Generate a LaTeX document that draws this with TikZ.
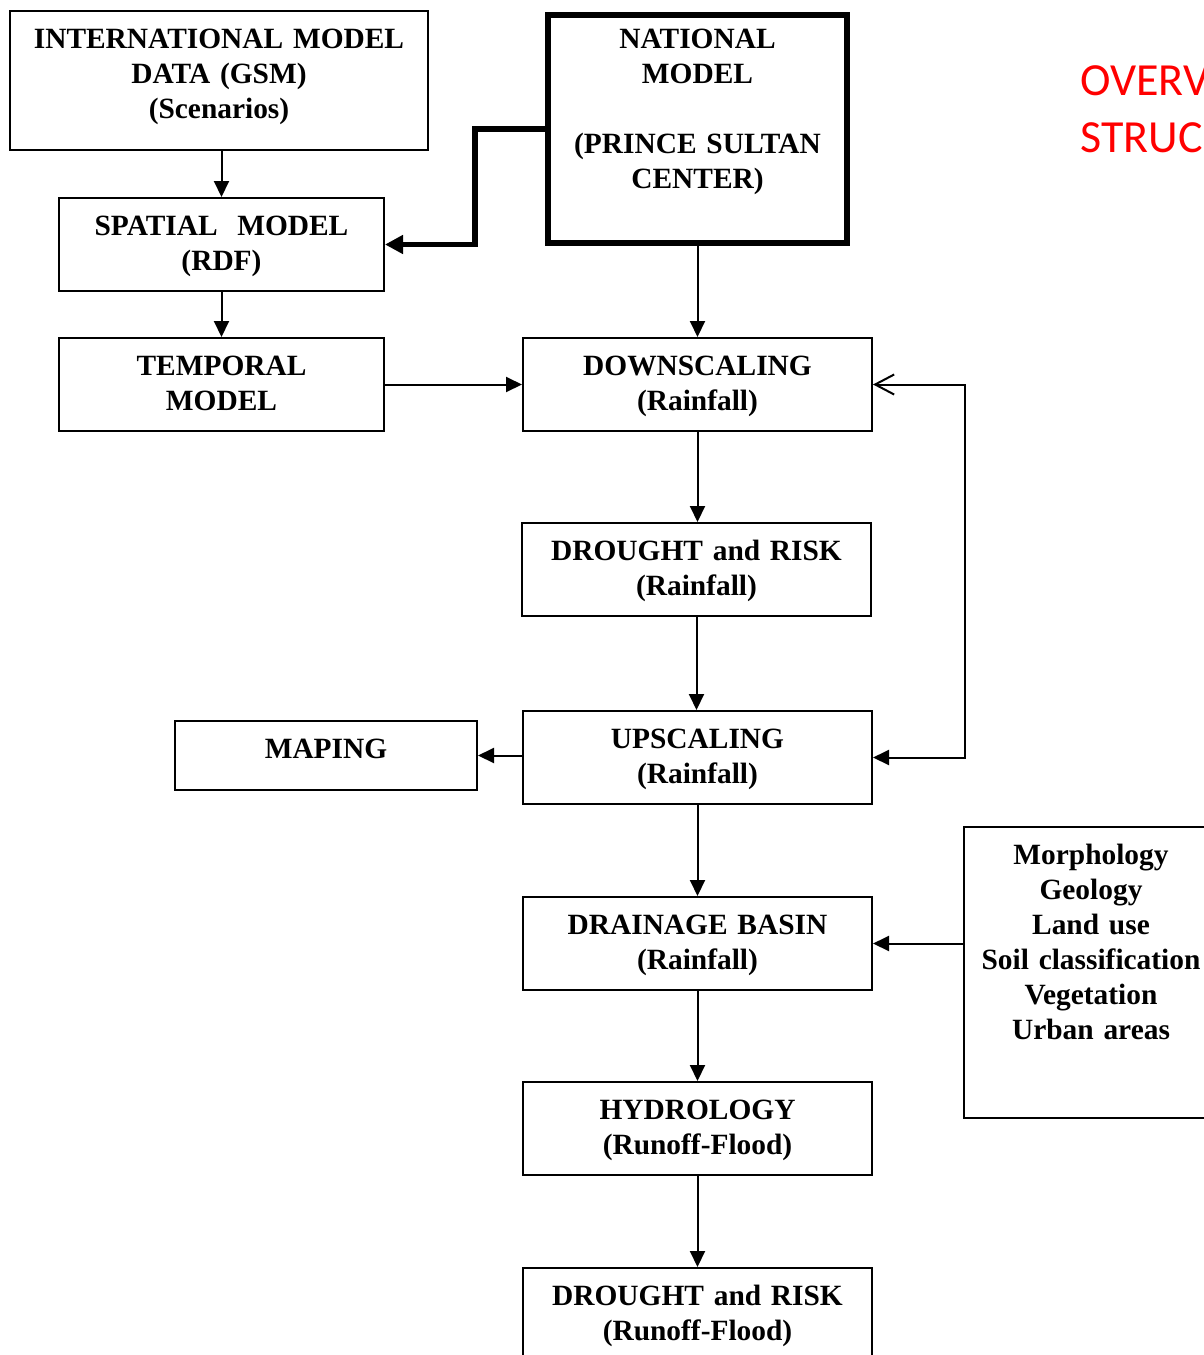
\documentclass[tikz,border=0pt]{standalone}
\usepackage{fontspec}
\setmainfont{Liberation Serif}
\newfontfamily\titlefont{Carlito}
\usetikzlibrary{arrows.meta}
\tikzset{box/.style={draw, line width=1pt, anchor=north, inner sep=0pt, align=center,
   text height=18.5pt, font=\bfseries\fontsize{14.7pt}{17.5pt}\selectfont},
 boxsize/.style 2 args={text width=#1*0.5pt, text depth=(#2-37)*0.5pt},
 arr/.style={line width=1pt, -{Triangle[length=8pt,width=7.5pt]}},
 thickarr/.style={line width=2.75pt, -{Triangle[length=9pt,width=9pt]}},
 }

\begin{document}
\begin{tikzpicture}[x=0.5pt, y=-0.5pt]
        \useasboundingbox (0,0) rectangle (1204,1355);
        \clip (0,0) rectangle (1204,1355);
        \node[box, boxsize={418}{139}] (intl) at (219,10) {INTERNATIONAL MODEL\\DATA (GSM)\\(Scenarios)};
        \node[box, line width=3pt, text width=299*0.5pt, text height=16.5pt, text depth=97.5pt] (natl) at (697.5,12) {NATIONAL\\MODEL\\[\baselineskip](PRINCE SULTAN\\CENTER)};
        \node[box, boxsize={325}{93}] (spatial) at (221.5,197) {SPATIAL\ \ MODEL\\(RDF)};
        \node[box, boxsize={325}{93}] (temporal) at (221.5,337) {TEMPORAL\\MODEL};
        \node[box, boxsize={349}{93}] (down) at (697.5,337) {DOWNSCALING\\(Rainfall)};
        \node[box, boxsize={349}{93}] (drought) at (696.5,522) {DROUGHT and RISK\\(Rainfall)};
        \node[box, boxsize={349}{93}] (up) at (697.5,710) {UPSCALING\\(Rainfall)};
        \node[box, boxsize={302}{69}] (maping) at (326,720) {MAPING};
        \node[box, boxsize={349}{93}] (drain) at (697.5,896) {DRAINAGE BASIN\\(Rainfall)};
        \node[box, boxsize={349}{93}] (hydro) at (697.5,1081) {HYDROLOGY\\(Runoff-Flood)};
        \node[box, boxsize={349}{93}] (final) at (697.5,1267) {DROUGHT and RISK\\(Runoff-Flood)};
        \node[box, boxsize={254}{291}] (factors) at (1091,826) {Morphology\\Geology\\Land use\\Soil classification\\Vegetation\\Urban areas};
        \node[anchor=base west, inner sep=0pt, text width=200pt, align=left, text=red,
              font=\titlefont\fontsize{23pt}{28.5pt}\selectfont] (title) at (1080,95) {OVERV\\STRUC};

        \draw[arr] (spatial.north |- intl.south) -- (spatial.north);
        \draw[arr] (spatial.south) -- (temporal.north);
        \draw[thickarr] (natl.west) -- ++(-70,0) |- (spatial.east);
        \draw[arr] (temporal.east) -- (down.west);
        \foreach \a/\b in {natl/down, down/drought, drought/up, up/drain, drain/hydro, hydro/final} {
            \draw[arr] (\a.south) -- (\a.south |- \b.north);
        }
        \draw[arr] (up.west |- maping.east) -- (maping.east);
        \draw[line width=1pt, {Straight Barb[length=9.5pt,width=10pt]}-{Triangle[length=8pt,width=7.5pt]}]
            (down.east) -- ++(92,0) |- (up.east);
        \draw[arr] (factors.west |- drain.east) -- (drain.east);
    \end{tikzpicture}
\end{document}
